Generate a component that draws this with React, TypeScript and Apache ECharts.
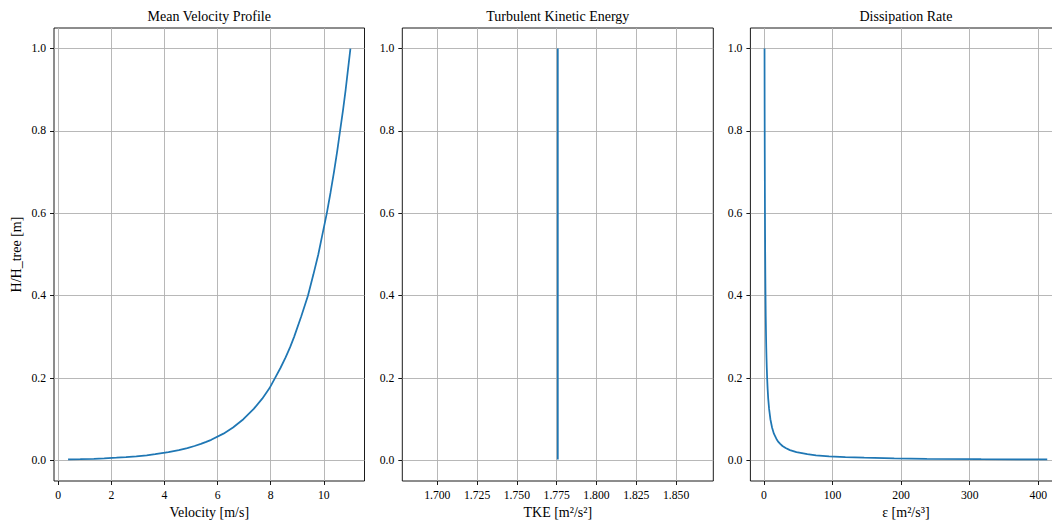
import React, { useEffect, useRef } from "react";
import * as echarts from "echarts";

// Normalised height H/H_tree (shared by all three profiles)
const heights = [
  0.0023, 0.003, 0.004, 0.005, 0.0065, 0.008, 0.01, 0.0125, 0.015, 0.02,
  0.025, 0.03, 0.035, 0.04, 0.045, 0.05, 0.065, 0.08, 0.1, 0.125,
  0.15, 0.175, 0.2, 0.225, 0.25, 0.275, 0.3, 0.35, 0.4, 0.45,
  0.5, 0.55, 0.6, 0.65, 0.7, 0.75, 0.8, 0.85, 0.9, 0.95, 1.0,
];

// Mean velocity [m/s]
const velocity = [
  0.37, 0.83, 1.34, 1.73, 2.19, 2.55, 2.94, 3.33, 3.65, 4.15,
  4.54, 4.86, 5.13, 5.37, 5.57, 5.76, 6.22, 6.58, 6.97, 7.36,
  7.68, 7.95, 8.16, 8.37, 8.56, 8.73, 8.88, 9.15, 9.40, 9.60,
  9.79, 9.95, 10.11, 10.25, 10.38, 10.50, 10.61, 10.72, 10.82, 10.91, 11.0,
];

// Turbulent kinetic energy [m²/s²] (constant profile)
const tkeHeights = [0.0023, 1.0];
const tkeValues = [1.7757, 1.7757];

// Dissipation rate [m²/s³]
const dissipation = [
  413, 316.7, 237.5, 190, 146.2, 118.8, 95, 76, 63.3, 47.5,
  38, 31.7, 27.1, 23.8, 21.1, 19, 14.6, 11.9, 9.5, 7.6,
  6.3, 5.43, 4.75, 4.22, 3.8, 3.45, 3.17, 2.71, 2.38, 2.11,
  1.9, 1.73, 1.58, 1.46, 1.36, 1.27, 1.19, 1.12, 1.06, 1.0, 0.95,
];

// Tick labels
const heightTicks = [0, 0.2, 0.4, 0.6, 0.8, 1.0];
const velocityTicks = [0, 2, 4, 6, 8, 10];
const tkeTicks = [1.7, 1.725, 1.75, 1.775, 1.8, 1.825, 1.85];
const dissipationTicks = [0, 100, 200, 300, 400];

const panelTitles = ["Mean Velocity Profile", "Turbulent Kinetic Energy", "Dissipation Rate"];
const xNames = ["Velocity [m/s]", "TKE [m²/s²]", "ε [m²/s³]"];
const yName = "H/H_tree [m]";

const FONT = "'Liberation Serif', 'Times New Roman', 'DejaVu Serif', serif";
const LINE_COLOR = "#1f77b4";

const GRID_TOP = 28;
const GRID_H = 453;
const grids = [
  { left: 54, width: 310.5 },
  { left: 402.3, width: 311 },
  { left: 750.4, width: 311 },
];

function makeX(gridIndex: number, min: number, max: number, ticks: number[], decimals: number, name: string) {
  return {
    type: "value",
    gridIndex,
    min,
    max,
    name,
    nameLocation: "middle",
    nameGap: 23,
    nameTextStyle: { fontFamily: FONT, fontSize: 14, color: "#000" },
    axisLine: { show: false, onZero: false },
    axisTick: {
      show: true,
      inside: false,
      length: 4,
      lineStyle: { color: "#000", width: 0.9 },
      customValues: ticks,
    },
    axisLabel: {
      show: true,
      margin: 8,
      fontFamily: FONT,
      fontSize: 11.7,
      color: "#000",
      customValues: ticks,
      formatter: (v: number) => Number(v).toFixed(decimals),
    },
    splitLine: { show: true, lineStyle: { color: "#b0b0b0", width: 0.9 } },
  };
}

function makeY(gridIndex: number, withName: boolean) {
  return {
    type: "value",
    gridIndex,
    min: -0.05,
    max: 1.05,
    name: withName ? yName : "",
    nameLocation: "middle",
    nameGap: 31,
    nameRotate: 90,
    nameTextStyle: { fontFamily: FONT, fontSize: 14, color: "#000" },
    axisLine: { show: false, onZero: false },
    axisTick: {
      show: true,
      inside: false,
      length: 4,
      lineStyle: { color: "#000", width: 0.9 },
      customValues: heightTicks,
    },
    axisLabel: {
      show: true,
      margin: 8,
      fontFamily: FONT,
      fontSize: 11.7,
      color: "#000",
      customValues: heightTicks,
      formatter: (v: number) => Number(v).toFixed(1),
    },
    splitLine: { show: true, lineStyle: { color: "#b0b0b0", width: 0.9 } },
  };
}

export default function App() {
  const ref = useRef<HTMLDivElement>(null);

  useEffect(() => {
    document.body.style.margin = "0";
    if (!ref.current) return;
    const chart = echarts.init(ref.current, undefined, { renderer: "svg" });

    const velData = heights.map((h, i) => [velocity[i], h]);
    const tkeData = tkeHeights.map((h, i) => [tkeValues[i], h]);
    const dissData = heights.map((h, i) => [dissipation[i], h]);

    const line = (idx: number, data: number[][]) => ({
      type: "line",
      xAxisIndex: idx,
      yAxisIndex: idx,
      data,
      showSymbol: false,
      symbol: "none",
      lineStyle: { color: LINE_COLOR, width: 1.75 },
      itemStyle: { color: LINE_COLOR },
      z: 3,
    });

    chart.setOption({
      animation: false,
      backgroundColor: "#ffffff",
      title: panelTitles.map((t, i) => ({
        text: t,
        left: grids[i].left + grids[i].width / 2,
        top: 8,
        padding: 0,
        textAlign: "center",
        textStyle: { fontFamily: FONT, fontSize: 14, fontWeight: "normal", color: "#000", lineHeight: 16 },
      })),
      grid: grids.map((g) => ({
        left: g.left,
        width: g.width,
        top: GRID_TOP,
        height: GRID_H,
        show: true,
        borderColor: "#000",
        borderWidth: 0.9,
        backgroundColor: "transparent",
        containLabel: false,
        outerBoundsMode: "none",
      })),
      xAxis: [
        makeX(0, -0.16, 11.53, velocityTicks, 0, xNames[0]),
        makeX(1, 1.67804, 1.87336, tkeTicks, 3, xNames[1]),
        makeX(2, -19.65, 433.65, dissipationTicks, 0, xNames[2]),
      ],
      yAxis: [makeY(0, true), makeY(1, false), makeY(2, false)],
      series: [line(0, velData), line(1, tkeData), line(2, dissData)],
    });

    return () => {
      chart.dispose();
    };
  }, []);

  return (
    <div
      style={{ position: "fixed", left: 0, top: 0, width: 1052, height: 522, overflow: "hidden", background: "#fff" }}
    >
      <div ref={ref} style={{ width: 1052, height: 522 }} />
    </div>
  );
}
